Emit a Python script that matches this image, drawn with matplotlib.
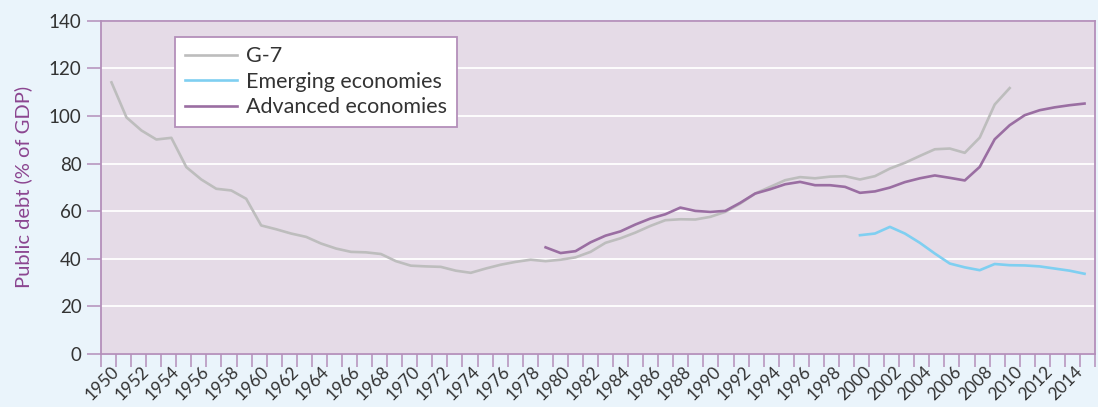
import matplotlib
matplotlib.use("Agg")
import matplotlib.pyplot as plt
import numpy as np

plt.rcParams['font.family'] = ['Lato', 'DejaVu Sans']

g7_years = list(range(1950, 2011))
g7_values = [114.1, 99.4, 93.9, 90.1, 90.8, 78.5, 73.3, 69.4, 68.7, 65.2,
             54.0, 52.4, 50.6, 49.2, 46.4, 44.3, 42.9, 42.7, 42.0, 39.0,
             37.1, 36.8, 36.6, 35.0, 34.1, 35.9, 37.5, 38.7, 39.6, 39.0,
             39.6, 40.6, 42.9, 46.7, 48.6, 51.0, 53.8, 56.2, 56.6, 56.5,
             57.6, 59.7, 63.2, 67.4, 70.2, 73.0, 74.3, 73.8, 74.5, 74.7,
             73.3, 74.7, 77.9, 80.3, 83.2, 86.0, 86.3, 84.5, 90.9, 104.8,
             111.7]

emerging_years = list(range(2000, 2016))
emerging_values = [49.9, 50.6, 53.4, 50.6, 46.7, 42.2, 38.0, 36.4, 35.2, 37.8,
                   37.3, 37.2, 36.8, 35.9, 35.0, 33.7]

advanced_years = list(range(1979, 2016))
advanced_values = [44.8, 42.4, 43.2, 46.9, 49.7, 51.5, 54.4, 56.9, 58.7, 61.5,
                   60.1, 59.7, 60.1, 63.5, 67.4, 69.2, 71.3, 72.3, 70.9, 70.9,
                   70.2, 67.7, 68.3, 69.9, 72.2, 73.8, 75.0, 74.0, 72.9, 78.6,
                   90.2, 96.1, 100.3, 102.4, 103.6, 104.5, 105.2]

label_years = list(range(1950, 2015, 2))
y_ticks = [0, 20, 40, 60, 80, 100, 120, 140]

outer_bg = '#EAF4FB'
plot_bg = '#E5DBE7'
spine_col = '#B48FBA'
grey = '#BDBDBD'
blue = '#7FCFF1'
purple = '#9A6EA2'
label_purple = '#8B4590'
text_col = '#333333'

fig = plt.figure(figsize=(10.98, 4.07), dpi=100, facecolor=outer_bg)
ax = fig.add_axes([101/1098, 1 - 354/407, (1095 - 101)/1098, (354 - 20.7)/407])
ax.set_facecolor(plot_bg)

first = 1950
x0, x1 = -0.7, 65.7
ax.set_xlim(x0, x1)
ax.set_ylim(0, 140)

for v in y_ticks:
    ax.axhline(v, color='white', lw=1.3, zorder=1)

ax.plot(np.array(g7_years) - first, g7_values, color=grey, lw=1.9, label='G-7', zorder=3)
ax.plot(np.array(emerging_years) - first, emerging_values, color=blue, lw=1.9,
        label='Emerging economies', zorder=3)
ax.plot(np.array(advanced_years) - first, advanced_values, color=purple, lw=1.9,
        label='Advanced economies', zorder=4)

for s in ax.spines.values():
    s.set_color(spine_col)
    s.set_linewidth(1.3)

ax.set_yticks(y_ticks)
ax.set_yticklabels([str(v) for v in y_ticks], fontsize=13.5, color=text_col)
ax.tick_params(axis='y', length=10, width=1.1, color=spine_col, pad=4)

ax.xaxis.remove_overlapping_locs = False
tick_pos = np.linspace(x0, x1, 67)
ax.set_xticks(tick_pos)
ax.set_xticklabels([''] * len(tick_pos))
ax.tick_params(axis='x', which='major', length=9.5, width=1.1, color=spine_col)

lab_pos = [tick_pos[1 + (y - first)] for y in label_years]
ax.set_xticks(lab_pos, minor=True)
ax.set_xticklabels([str(y) for y in label_years], minor=True, rotation=45,
                   ha='right', va='center', rotation_mode='anchor',
                   fontsize=12.5, color=text_col)
ax.tick_params(axis='x', which='minor', length=0, pad=11)

ax.set_ylabel('Public debt (% of GDP)', fontsize=14.5, color=label_purple, labelpad=12)

leg = ax.legend(loc='upper left', bbox_to_anchor=((175 - 101)/994, (354 - 36.7)/333.3),
                fontsize=15.5, frameon=True, fancybox=False, handlelength=2.45,
                handletextpad=0.4, labelspacing=0.25, borderpad=0.45,
                borderaxespad=0)
leg.get_frame().set_edgecolor(spine_col)
leg.get_frame().set_linewidth(1.3)
leg.get_frame().set_facecolor('white')
leg.get_frame().set_alpha(1)
for t in leg.get_texts():
    t.set_color(text_col)

fig.savefig('out.png', dpi=100, facecolor=outer_bg)
